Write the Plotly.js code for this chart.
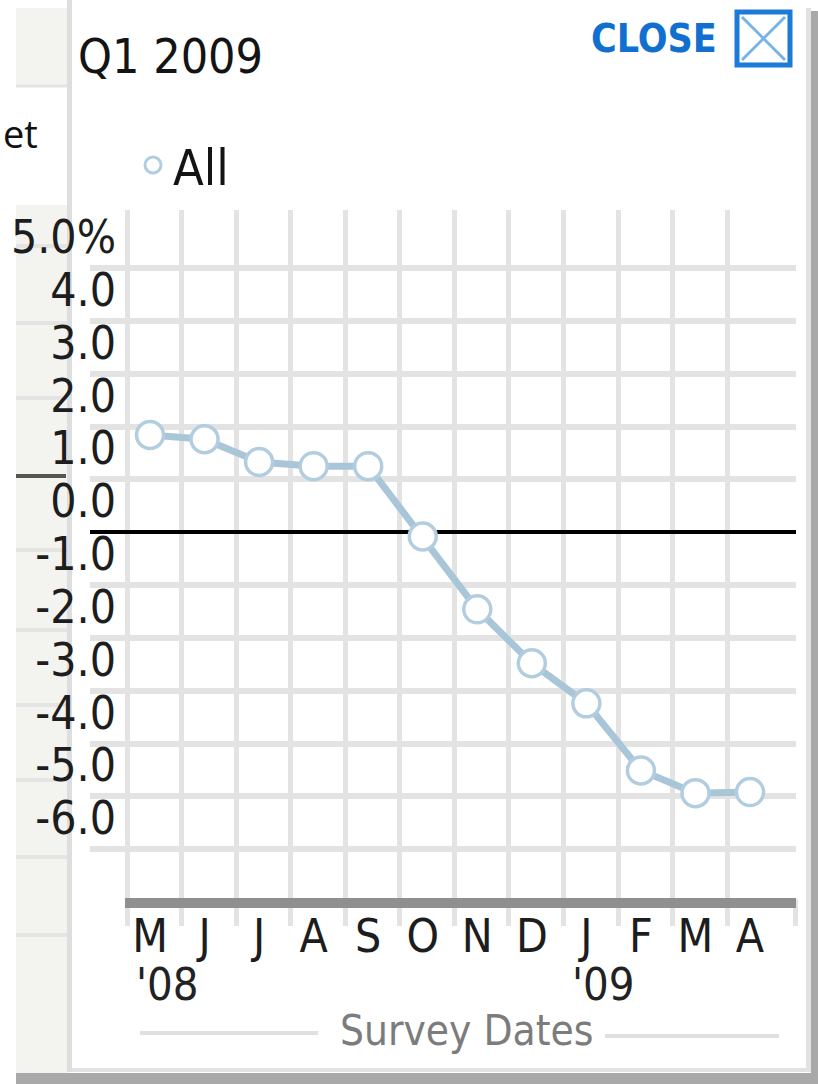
<!DOCTYPE html>
<html>
<head>
<meta charset="utf-8">
<script src="https://cdn.plot.ly/plotly-3.0.1.min.js"></script>
<style>html,body{margin:0;padding:0;background:#fff;}#chart{width:818px;height:1084px;}</style>
</head>
<body>
<div id="chart"></div>
<script>
// ---- data ----
const months = ["M", "J", "J", "A", "S", "O", "N", "D", "J", "F", "M", "A"];
const allValues = [1.84, 1.76, 1.33, 1.25, 1.25, -0.08, -1.46, -2.48, -3.24, -4.51, -4.94, -4.92];
const yTickValues = [5, 4, 3, 2, 1, 0, -1, -2, -3, -4, -5, -6];
const yTickLabels = ["5.0%", "4.0", "3.0", "2.0", "1.0", "0.0", "-1.0", "-2.0", "-3.0", "-4.0", "-5.0", "-6.0"];
const yearLabels = ["'08", "'09"];
const yearStartIndex = [0, 8];
const seriesName = "All";
const chartTitle = "Q1 2009";
const xAxisTitle = "Survey Dates";

// ---- geometry helpers (pixel -> paper) ----
const W = 818, H = 1084, L = 90, R = 796, T = 210, B = 898;
const px = p => (p - L) / (R - L);
const py = p => (B - p) / (B - T);

const NARROW = "DejaVu Sans Condensed, Liberation Sans Narrow, Arial Narrow, sans-serif";
const GRID = "#e3e3e3";
const idx = months.map((_, i) => i);

const traces = [
  {
    type: "scatter", mode: "lines+markers", name: seriesName, showlegend: false,
    x: idx, y: allValues,
    line: {color: "#a9c6d9", width: 7},
    marker: {symbol: "circle", size: 27, color: "#ffffff", line: {color: "#b3cde0", width: 3.5}},
    hoverinfo: "y"
  },
  {
    type: "scatter", mode: "markers", name: seriesName, showlegend: true,
    x: [null], y: [null],
    marker: {symbol: "circle", size: 27, color: "#ffffff", line: {color: "#b3cde0", width: 3}}
  }
];

// page / popup decorations
const shapes = [];
const rectP = (x0, y0, x1, y1, fill, layer) => shapes.push({type: "rect", xref: "paper", yref: "paper", layer: layer || "below",
  x0: px(x0), x1: px(x1), y0: py(y1), y1: py(y0), fillcolor: fill, line: {width: 0}});
const lineP = (x0, y0, x1, y1, color, w, layer) => shapes.push({type: "line", xref: "paper", yref: "paper", layer: layer || "below",
  x0: px(x0), x1: px(x1), y0: py(y0), y1: py(y1), line: {color: color, width: w}});

rectP(16, 8, 68, 86, "#f3f3ef");
lineP(16, 86, 68, 86, "#e4e4e4", 3);
rectP(16, 205, 68, 1073, "#f3f3ef");
[246, 323, 398, 550, 630, 705, 780, 857, 935].forEach(y => lineP(16, y, 68, y, "#e4e4e4", 4));
lineP(16, 476, 66, 476, "#555555", 4);
rectP(67, 0, 72, 1072, "#dedede");
rectP(72, 1068, 810, 1072, "#e2e2e2");
rectP(16, 1073, 818, 1084, "#a9a9a9");
rectP(806, 8, 811, 1072, "#e2e2e2");
rectP(811, 11, 818, 1084, "#a9a9a9");
// axis baseline bar
rectP(125, 898, 796, 908, "#8f8f8f", "above");
// Survey Dates rules
lineP(140, 1033, 318, 1033, "#e0e0e0", 4);
lineP(605, 1036, 779, 1036, "#e0e0e0", 4);
// close icon
shapes.push({type: "rect", xref: "paper", yref: "paper", layer: "above",
  x0: px(737), x1: px(790), y0: py(65), y1: py(12), fillcolor: "rgba(0,0,0,0)", line: {color: "#1c7bd7", width: 5}});
lineP(742, 17, 785, 60, "#78b3e8", 3, "above");
lineP(785, 17, 742, 60, "#78b3e8", 3, "above");

const annotations = [
  {xref: "paper", yref: "paper", x: px(719), y: py(39), xanchor: "right", yanchor: "middle", showarrow: false,
   text: "<b>CLOSE</b>", font: {family: NARROW, size: 39, color: "#1170cf"}},
  {xref: "paper", yref: "paper", x: px(40), y: py(133), xanchor: "right", yanchor: "middle", showarrow: false,
   text: "et", font: {family: "Open Sans, sans-serif", size: 38, color: "#111"}},
  {xref: "paper", yref: "paper", x: px(466), y: py(1030), xanchor: "center", yanchor: "middle", showarrow: false,
   text: xAxisTitle, font: {family: NARROW, size: 42, color: "#7c7c7c"}}
];
yearLabels.forEach((t, k) => annotations.push({
  xref: "x", yref: "paper", x: yearStartIndex[k] - 0.3, y: py(984), xanchor: "left", yanchor: "middle", showarrow: false,
  text: t, font: {family: NARROW, size: 45, color: "#222"}
}));

const layout = {
  width: W, height: H,
  margin: {l: L, r: W - R, t: T, b: H - B, pad: 0, autoexpand: false},
  paper_bgcolor: "#ffffff", plot_bgcolor: "#ffffff",
  title: {text: chartTitle, xref: "container", yref: "container", x: 78 / W, xanchor: "left",
          y: 1 - 56 / H, yanchor: "middle", automargin: false, font: {family: NARROW, size: 48, color: "#141414"}},
  showlegend: true,
  legend: {xref: "container", yref: "container", x: 133 / W, xanchor: "left", y: 1 - 165 / H, yanchor: "middle",
           font: {family: NARROW, size: 50, color: "#141414"}, bgcolor: "rgba(0,0,0,0)"},
  xaxis: {
    automargin: false,
    range: [-1.1, 11.843], fixedrange: true,
    tickmode: "array", tickvals: idx, ticktext: months,
    showgrid: false, zeroline: false, ticks: "", showline: false,
    ticklabelstandoff: 7,
    tickfont: {family: NARROW, size: 46, color: "#1d1d1d"},
    minor: {tickmode: "array", tickvals: idx.map(i => i - 0.42).concat([11.83]),
            showgrid: true, gridcolor: GRID, gridwidth: 5,
            ticks: "outside", ticklen: 27, tickwidth: 5, tickcolor: GRID}
  },
  yaxis: {
    automargin: false,
    range: [-6.925, 6.1], fixedrange: true,
    tickmode: "array", tickvals: yTickValues, ticktext: yTickLabels,
    showgrid: true, gridcolor: GRID, gridwidth: 6,
    zeroline: true, zerolinecolor: "#000000", zerolinewidth: 4,
    ticks: "", showline: false,
    ticklabelshift: -31, ticklabelstandoff: -27,
    tickfont: {family: NARROW, size: 46, color: "#1d1d1d"}
  },
  shapes: shapes,
  annotations: annotations
};

Plotly.newPlot("chart", traces, layout, {displayModeBar: false, staticPlot: true});
</script>
</body>
</html>
